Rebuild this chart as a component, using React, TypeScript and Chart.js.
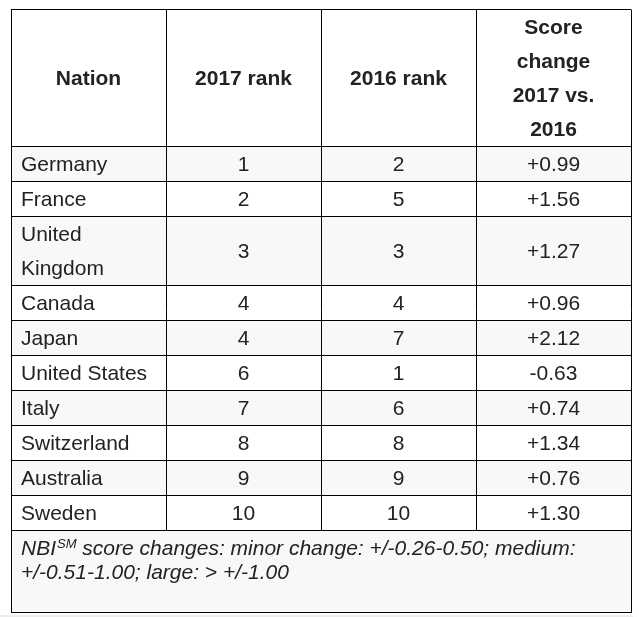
import React, { useEffect, useRef } from 'react';
import { Chart, registerables } from 'chart.js';

Chart.register(...registerables);

// ---------- data ----------
const headers = ['Nation', '2017 rank', '2016 rank', 'Score change 2017 vs. 2016'];
const nations = ['Germany', 'France', 'United Kingdom', 'Canada', 'Japan', 'United States', 'Italy', 'Switzerland', 'Australia', 'Sweden'];
const rank2017 = [1, 2, 3, 4, 4, 6, 7, 8, 9, 10];
const rank2016 = [2, 5, 3, 4, 7, 1, 6, 8, 9, 10];
const scoreChange = [0.99, 1.56, 1.27, 0.96, 2.12, -0.63, 0.74, 1.34, 0.76, 1.30];
const footnoteLead = 'NBI';
const footnoteSup = 'SM';
const footnoteRest = ' score changes: minor change: +/-0.26-0.50; medium: +/-0.51-1.00; large: > +/-1.00';

// ---------- layout / style ----------
const W = 639;
const H = 617;
const FAMILY = '"Liberation Sans", Arial, sans-serif';
const FS = 21;
const LINE_H = 34;
const FOOT_LINE_H = 24.5;
const FOOT_H = 82.5;
const PAD_X = 10;
const HEADER_WRAP = 115;
const BODY_WRAP = 131;
const TABLE_LEFT = 11;
const TABLE_TOP = 9.5;
const TABLE_RIGHT = 631;
const TEXT = '#222222';
const BORDER = '#000000';
const STRIPE = '#f8f8f8';

const fmtChange = (v: number) => (v > 0 ? '+' : '') + v.toFixed(2);

function wrap(ctx: CanvasRenderingContext2D, text: string, maxW: number): string[] {
  const words = text.split(' ');
  const lines: string[] = [];
  let cur = '';
  for (const w of words) {
    const test = cur ? cur + ' ' + w : w;
    if (cur && ctx.measureText(test).width > maxW) {
      lines.push(cur);
      cur = w;
    } else cur = test;
  }
  if (cur) lines.push(cur);
  return lines;
}

export default function App() {
  const ref = useRef<HTMLCanvasElement | null>(null);

  useEffect(() => {
    const canvas = ref.current;
    if (!canvas) return;
    const mctx = document.createElement('canvas').getContext('2d') as CanvasRenderingContext2D;
    const colCount = headers.length;

    mctx.font = `bold ${FS}px ${FAMILY}`;
    const headerLines = headers.map((h) => wrap(mctx, h, HEADER_WRAP));
    mctx.font = `${FS}px ${FAMILY}`;
    const bodyRows: string[][][] = nations.map((n, i) => [
      wrap(mctx, n, BODY_WRAP),
      [String(rank2017[i])],
      [String(rank2016[i])],
      [fmtChange(scoreChange[i])],
    ]);

    const headerH = Math.max(...headerLines.map((l) => l.length)) * LINE_H + 0.5;
    const rowHs = bodyRows.map((r) => Math.max(...r.map((c) => c.length)) * LINE_H + 1);
    const heights = [headerH, ...rowHs, FOOT_H];
    const rowEdges: number[] = [0];
    heights.forEach((h) => rowEdges.push(rowEdges[rowEdges.length - 1] + h));
    const total = rowEdges[rowEdges.length - 1];
    const colEdges = Array.from({ length: colCount + 1 }, (_, i) => i);

    const linePx = (p: number) => Math.round(p - 0.5);

    const tablePlugin = {
      id: 'tablePlugin',
      beforeDraw(chart: any) {
        const { ctx, scales } = chart;
        const x = scales.x;
        const y = scales.y;
        ctx.save();
        ctx.fillStyle = '#ffffff';
        ctx.fillRect(0, 0, W, H);
        ctx.fillStyle = '#ececec';
        ctx.fillRect(0, 615, 633, 2);
        const x0 = x.getPixelForValue(0);
        const x1 = x.getPixelForValue(colCount);
        for (let r = 1; r < heights.length; r++) {
          if ((r - 1) % 2 === 0) {
            const yt = y.getPixelForValue(rowEdges[r]);
            const yb = y.getPixelForValue(rowEdges[r + 1]);
            ctx.fillStyle = STRIPE;
            ctx.fillRect(x0, yt, x1 - x0, yb - yt);
          }
        }
        ctx.restore();
      },
      afterDraw(chart: any) {
        const { ctx, scales } = chart;
        const x = scales.x;
        const y = scales.y;
        ctx.save();

        // footnote cell spans all columns: clear the column lines inside it
        const fr = heights.length - 1;
        const fTopPx = linePx(y.getPixelForValue(rowEdges[fr]));
        const fBotPx = linePx(y.getPixelForValue(rowEdges[fr + 1]));
        const lPx = linePx(x.getPixelForValue(0));
        const rPx = linePx(x.getPixelForValue(colCount));
        ctx.fillStyle = (fr - 1) % 2 === 0 ? STRIPE : '#ffffff';
        ctx.fillRect(lPx + 1, fTopPx + 1, rPx - lPx - 1, fBotPx - fTopPx - 1);

        ctx.fillStyle = TEXT;
        ctx.textBaseline = 'alphabetic';
        const drawCell = (lines: string[], c: number, r: number, align: 'left' | 'center') => {
          const yt = y.getPixelForValue(rowEdges[r]);
          const yb = y.getPixelForValue(rowEdges[r + 1]);
          const cy = (yt + yb) / 2;
          const xl = x.getPixelForValue(c);
          const xr = x.getPixelForValue(c + 1);
          ctx.textAlign = align;
          const tx = align === 'left' ? xl + PAD_X : (xl + xr) / 2;
          lines.forEach((ln, i) => {
            const lc = cy + (i - (lines.length - 1) / 2) * LINE_H;
            ctx.fillText(ln, tx, lc + 0.36 * FS);
          });
        };
        ctx.font = `bold ${FS}px ${FAMILY}`;
        headerLines.forEach((l, c) => drawCell(l, c, 0, 'center'));
        ctx.font = `${FS}px ${FAMILY}`;
        bodyRows.forEach((row, r) => row.forEach((l, c) => drawCell(l, c, r + 1, c === 0 ? 'left' : 'center')));

        // footnote text
        const ft = y.getPixelForValue(rowEdges[fr]);
        const fl = x.getPixelForValue(0) + PAD_X;
        const maxW = x.getPixelForValue(colCount) - x.getPixelForValue(0) - 2 * PAD_X;
        const italic = `italic ${FS}px ${FAMILY}`;
        const supFont = `italic 13px ${FAMILY}`;
        ctx.textAlign = 'left';
        ctx.font = italic;
        const leadW = ctx.measureText(footnoteLead).width;
        ctx.font = supFont;
        const supW = ctx.measureText(footnoteSup).width;
        ctx.font = italic;
        const words = footnoteRest.trim().split(' ');
        const lines: string[] = [];
        let cur = '';
        let avail = maxW - leadW - supW;
        for (const w of words) {
          const test = lines.length === 0 ? cur + ' ' + w : cur ? cur + ' ' + w : w;
          if (cur && ctx.measureText(test).width > avail) {
            lines.push(cur);
            cur = w;
            avail = maxW;
          } else cur = test;
        }
        if (cur) lines.push(cur);
        const b0 = ft + FOOT_LINE_H;
        ctx.fillText(footnoteLead, fl, b0);
        ctx.font = supFont;
        ctx.fillText(footnoteSup, fl + leadW + 1, b0 - 7);
        ctx.font = italic;
        lines.forEach((ln, i) => {
          const lx = i === 0 ? fl + leadW + supW + 1 : fl;
          ctx.fillText(ln, lx, b0 + i * FOOT_LINE_H);
        });
        ctx.restore();
      },
    };

    const gridOpts = { color: BORDER, lineWidth: 1, drawTicks: false };
    const chart = new Chart(canvas, {
      type: 'scatter',
      data: { datasets: [] },
      options: {
        animation: false,
        responsive: false,
        events: [],
        layout: {
          padding: {
            left: TABLE_LEFT,
            top: TABLE_TOP,
            right: W - TABLE_RIGHT,
            bottom: H - TABLE_TOP - total,
          },
        },
        plugins: { legend: { display: false }, tooltip: { enabled: false } },
        scales: {
          x: {
            type: 'linear',
            min: 0,
            max: colCount,
            afterBuildTicks: (s: any) => {
              s.ticks = colEdges.map((v) => ({ value: v }));
            },
            ticks: { display: false },
            grid: gridOpts,
            border: { color: BORDER, width: 1 },
          },
          y: {
            type: 'linear',
            min: 0,
            max: total,
            reverse: true,
            afterBuildTicks: (s: any) => {
              s.ticks = rowEdges.map((v) => ({ value: v }));
            },
            ticks: { display: false },
            grid: gridOpts,
            border: { color: BORDER, width: 1 },
          },
        },
      } as any,
      plugins: [tablePlugin],
    });
    return () => chart.destroy();
  }, []);

  return (
    <div style={{ position: 'absolute', left: 0, top: 0, width: W, height: H, background: '#fff' }}>
      <canvas ref={ref} width={W} height={H} style={{ display: 'block' }} />
    </div>
  );
}
